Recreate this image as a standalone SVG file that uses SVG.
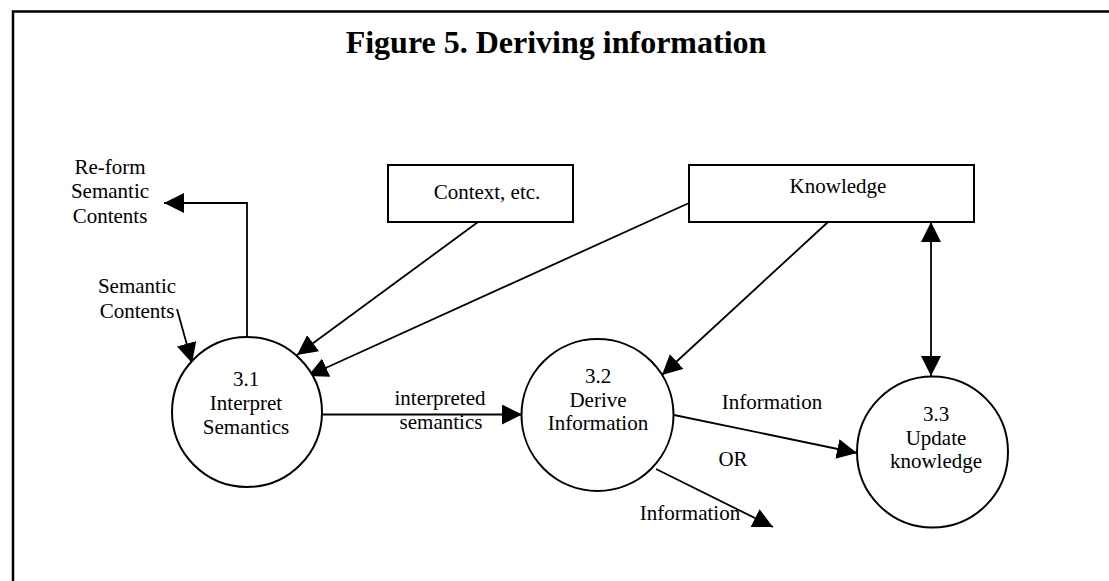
<svg xmlns="http://www.w3.org/2000/svg" width="1109" height="581" viewBox="0 0 1109 581">
  <style>
    .frame { fill: none; stroke: #000; stroke-width: 2.5; }
    .box { fill: #fff; stroke: #000; stroke-width: 2; }
    .proc { fill: #fff; stroke: #000; stroke-width: 2; }
    .flow { fill: none; stroke: #000; stroke-width: 1.8; }
    .head { fill: #000; stroke: none; }
    text { font-family: "Liberation Serif", "Times New Roman", serif; font-size: 21px; fill: #000; }
    .title { font-size: 32px; font-weight: bold; }
    .c { text-anchor: middle; }
  </style>
  <defs>
    <marker id="arrow" viewBox="0 0 20 20" refX="20" refY="10" markerWidth="20" markerHeight="20" markerUnits="userSpaceOnUse" orient="auto-start-reverse">
      <path class="head" d="M0,0 L20,10 L0,20 Z"/>
    </marker>
  </defs>

  <rect width="1109" height="581" fill="#fff"/>
  <!-- page frame -->
  <path class="frame" d="M13,581 V11.5 H1109"/>

  <text class="title c" x="556" y="53">Figure 5. Deriving information</text>

  <!-- data flows -->
  <g id="connectors">
    <path class="flow" d="M247,337 V203 H164" marker-end="url(#arrow)"/>
    <path class="flow" d="M177,309 L192,363" marker-end="url(#arrow)"/>
    <path class="flow" d="M478,222 L297,355" marker-end="url(#arrow)"/>
    <path class="flow" d="M689,203 L308,376" marker-end="url(#arrow)"/>
    <path class="flow" d="M828,222 L662,375" marker-end="url(#arrow)"/>
    <path class="flow" d="M931,222 V376" marker-start="url(#arrow)" marker-end="url(#arrow)"/>
    <path class="flow" d="M322,414.5 H522" marker-end="url(#arrow)"/>
    <path class="flow" d="M674,415 L857,453" marker-end="url(#arrow)"/>
    <path class="flow" d="M656,469 L773,527" marker-end="url(#arrow)"/>

    <text class="c" x="110" y="174">Re-form</text>
    <text class="c" x="110" y="198">Semantic</text>
    <text class="c" x="110" y="223">Contents</text>
    <text class="c" x="137" y="293">Semantic</text>
    <text class="c" x="137" y="318">Contents</text>
    <text class="c" x="440" y="405">interpreted</text>
    <text class="c" x="441" y="429">semantics</text>
    <text class="c" x="772" y="409">Information</text>
    <text class="c" x="733" y="466">OR</text>
    <text class="c" x="690" y="520">Information</text>
  </g>

  <g id="context">
    <rect class="box" x="388" y="165" width="185" height="57"/>
    <text class="c" x="487" y="199">Context, etc.</text>
  </g>

  <g id="knowledge">
    <rect class="box" x="689" y="165" width="285" height="57"/>
    <text class="c" x="838" y="193">Knowledge</text>
  </g>

  <g id="p31">
    <circle class="proc" cx="247" cy="412" r="75"/>
    <text class="c" x="246" y="386">3.1</text>
    <text class="c" x="246" y="410">Interpret</text>
    <text class="c" x="246" y="434">Semantics</text>
  </g>

  <g id="p32">
    <circle class="proc" cx="597.5" cy="415" r="76"/>
    <text class="c" x="598" y="383">3.2</text>
    <text class="c" x="598" y="407">Derive</text>
    <text class="c" x="598" y="430">Information</text>
  </g>

  <g id="p33">
    <circle class="proc" cx="932.5" cy="452" r="75.5"/>
    <text class="c" x="936" y="421">3.3</text>
    <text class="c" x="936" y="445">Update</text>
    <text class="c" x="936" y="468">knowledge</text>
  </g>
</svg>
